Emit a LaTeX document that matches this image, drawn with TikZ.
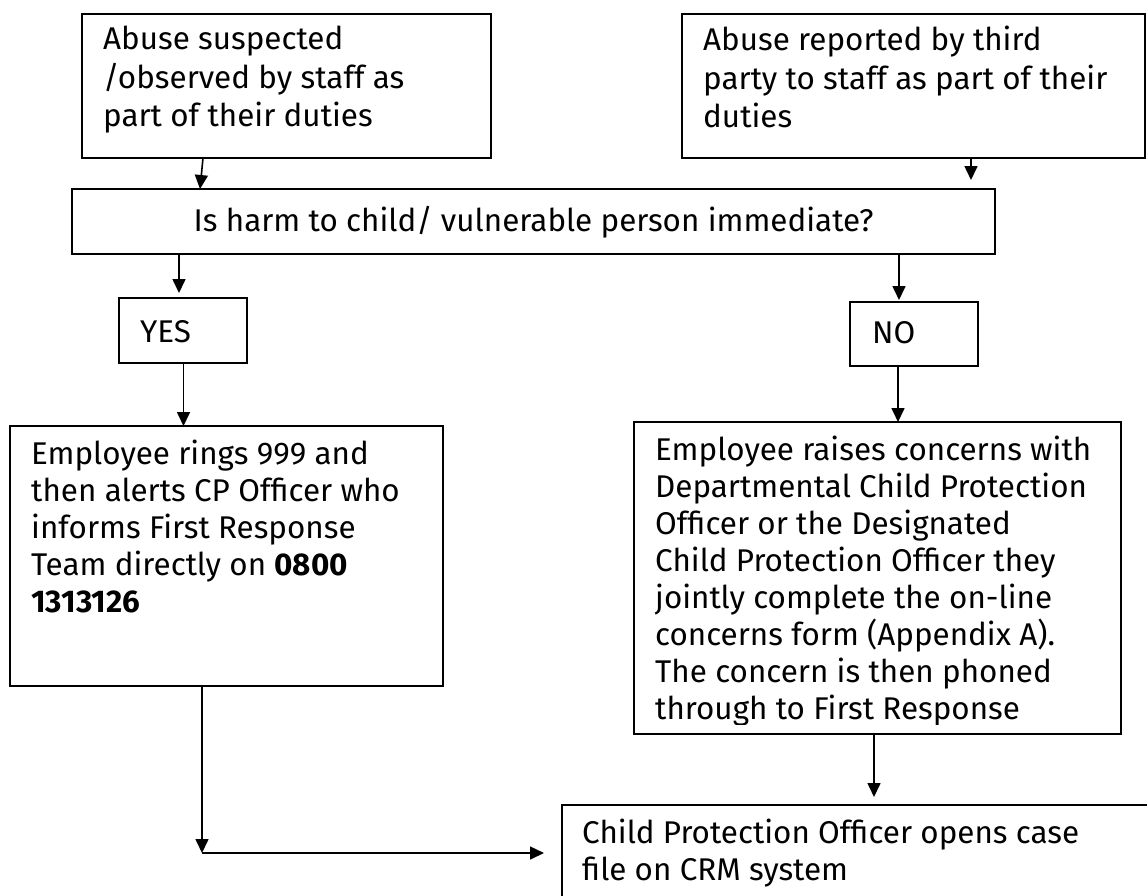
\documentclass[tikz,border=0pt]{standalone}
\usepackage{fontspec}
\setmainfont{Fira Sans}
\usetikzlibrary{calc,arrows.meta}

\tikzset{
  frame/.style={draw, line width=1.6pt, inner sep=0pt, outer sep=0pt, anchor=north west},
  txt/.style={inner sep=0pt, anchor=north west, align=left, font=\fontsize{31.4}{37}\selectfont, execute at begin node=\strut},
  toptxt/.style={txt, font=\fontsize{31.4}{38.5}\selectfont},
  arr/.style={line width=1.6pt, -{Triangle[length=14pt,width=13pt]}}
}

\begin{document}
\begin{tikzpicture}[x=1pt,y=-1pt]
  \clip (0,0) rectangle (1147,895);
  \fill[white] (0,0) rectangle (1147,895);
  % frames
  \node[frame, minimum width=409pt, minimum height=144pt] (susp) at (82,14) {};
  \node[frame, minimum width=463pt, minimum height=144pt] (third) at (682,14) {};
  \node[frame, minimum width=923pt, minimum height=65pt] (ask) at (72,189) {};
  \node[frame, minimum width=128pt, minimum height=65pt] (yes) at (119,298) {};
  \node[frame, minimum width=128pt, minimum height=64pt] (no) at (850,302) {};
  \node[frame, minimum width=433pt, minimum height=260pt] (ring) at (10,426) {};
  \node[frame, minimum width=487pt, minimum height=312pt] (raise) at (634,422) {};
  \node[frame, minimum width=700pt, minimum height=200pt] (crm) at (562,805) {};
  % texts (strut top = baseline - 0.7 baselineskip)
  \node[toptxt] (susptxt) at ($(susp.north west)+(21,12)$) {Abuse suspected\\/observed by staff as\\part of their duties};
  \node[toptxt] (thirdtxt) at ($(third.north west)+(21,12)$) {Abuse reported by third\\party to staff as part of their\\duties};
  \node[txt, anchor=base] (asktxt) at ($(ask.north)+(0,42)$) {Is harm to child/ vulnerable person immediate?};
  \node[txt, anchor=base west] (yestxt) at ($(yes.north west)+(21,44)$) {YES};
  \node[txt, anchor=base west] (notxt) at ($(no.north west)+(22,41)$) {NO};
  \node[txt] (ringtxt) at ($(ring.north west)+(21,14)$) {Employee rings 999 and\\then alerts CP Officer who\\informs First Response\\Team directly on \textbf{0800}\\\textbf{1313126}};
  \begin{scope}
    \clip (raise.north west) rectangle ($(raise.south east)+(0,-10)$);
    \node[txt] (raisetxt) at ($(raise.north west)+(21,14)$) {Employee raises concerns with\\Departmental Child Protection\\Officer or the Designated\\Child Protection Officer they\\jointly complete the on-line\\concerns form (Appendix A).\\The concern is then phoned\\through to First Response};
  \end{scope}
  \node[txt] (crmtxt) at ($(crm.north west)+(20,14)$) {Child Protection Officer opens case\\file on CRM system};
  % connectors
  \draw[arr] ($(susp.south west)+(121,0)$) -- ($(ask.north west)+(128,0)$);
  \draw[arr] ($(third.south west)+(289,0)$) -- ($(ask.north west)+(899,-9)$);
  \draw[arr] ($(ask.south west)+(107,0)$) -- ($(yes.north west)+(60,-5)$);
  \draw[arr] ($(ask.south west)+(827,0)$) -- ($(no.north west)+(49,-2)$);
  \draw[arr] ($(yes.south west)+(64.5,0)$) -- ($(ring.north west)+(173.5,0)$);
  \draw[arr] ($(no.south west)+(48,0)$) -- ($(raise.north west)+(264,0)$);
  \draw[arr] ($(raise.south west)+(240,0)$) -- ($(crm.north west)+(312,-8)$);
  \coordinate (turn) at ($(ring.south west)+(192,167)$);
  \draw[arr] ($(ring.south west)+(192,0)$) -- (turn);
  \draw[arr] (turn) -- ($(crm.north west)+(-18,48)$);
\end{tikzpicture}
\end{document}
